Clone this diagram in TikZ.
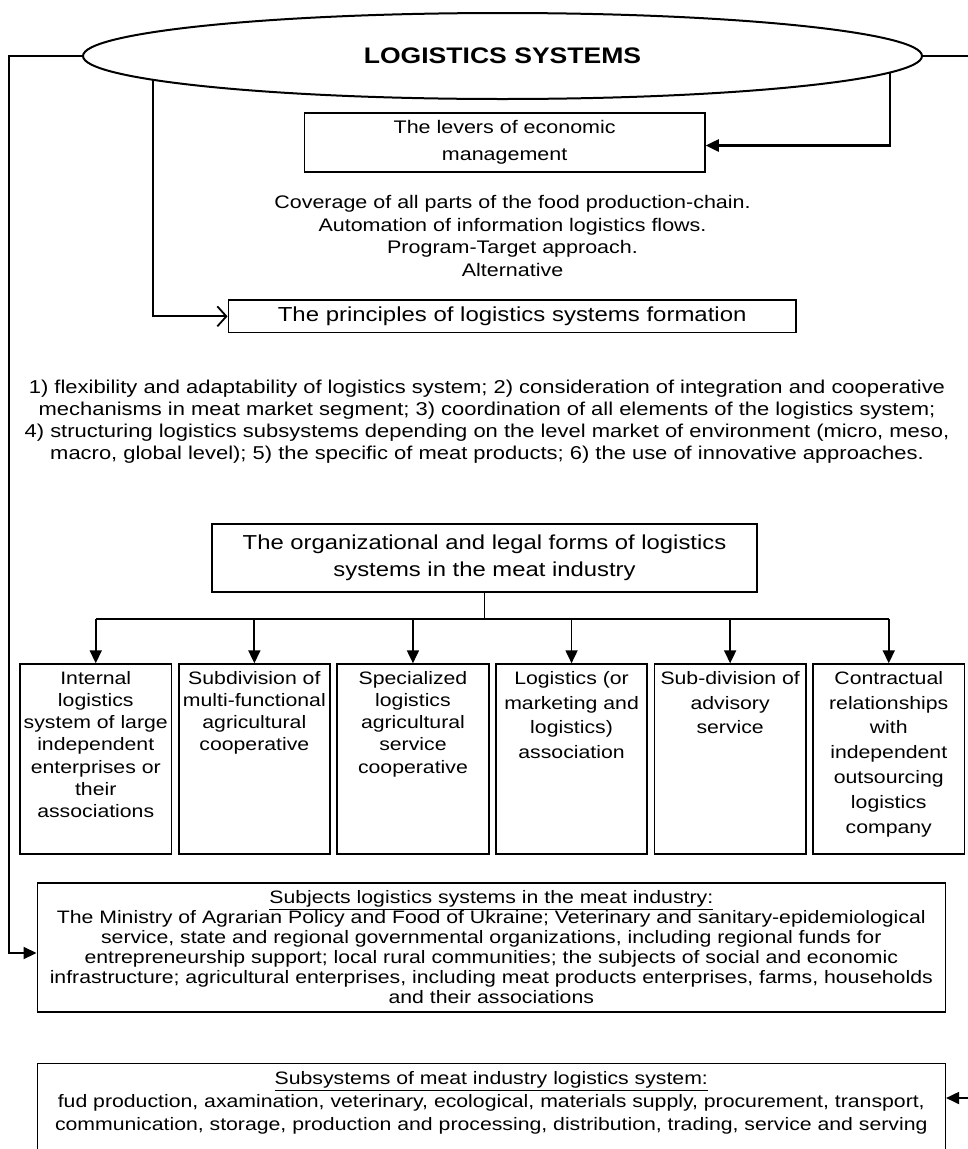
\documentclass[tikz,border=0pt]{standalone}
\usepackage{fontspec}
\setmainfont{Liberation Sans}[FakeStretch=1.18]
\usetikzlibrary{arrows.meta,shapes.geometric}
\pgfdeclarelayer{bg}
\pgfsetlayers{bg,main}
\newcommand{\myfs}[2]{\fontsize{#1pt}{#2pt}\selectfont}
\newcommand{\sixtext}[2]{\begin{minipage}[t][189.4pt][t]{151.5pt}\centering\myfs{18}{#1}\rule{0pt}{20pt}#2\end{minipage}}
\begin{document}
\begin{tikzpicture}[x=1pt,y=-1pt,
  box/.style={draw,line width=1.5pt,inner sep=0pt,align=center},
  sixbox/.style={draw,line width=1.8pt,inner sep=0pt,anchor=north},
  conn/.style={line width=1.8pt},
  tip/.style={-{Triangle[length=13pt,width=12pt]}},
  openTip/.style={-{Straight Barb[length=9pt,width=20pt]}}
]
\useasboundingbox (0,0) rectangle (967,1149);
\clip (0,0) rectangle (967,1149);

\node[ellipse, draw, line width=2pt, fill=white, minimum width=839pt, minimum height=86pt, inner sep=0pt,
      font=\myfs{22.5}{27}\bfseries] (ell) at (502.5,56) {LOGISTICS SYSTEMS};

\node[box, minimum width=400.7pt, minimum height=59pt, font=\myfs{18.2}{27}] (lev) at (504.65,142.5)
  {The levers of economic\\management};

\node[align=center, inner sep=0pt, font=\myfs{18.2}{22.5}] (cov) at (512.5,236)
  {Coverage of all parts of the food production-chain.\\Automation of information logistics flows.\\Program-Target approach.\\Alternative};

\node[box, minimum width=567.7pt, minimum height=32.7pt, font=\myfs{20.3}{24}] (prin) at (512.15,316.35)
  {The principles of logistics systems formation};

\node[align=center, inner sep=0pt, font=\myfs{18.6}{22}] (par) at (487,422)
  {1) flexibility and adaptability of logistics system; 2) consideration of integration and cooperative\\
   mechanisms in meat market segment; 3) coordination of all elements of the logistics system;\\
   4) structuring logistics subsystems depending on the level market of environment (micro, meso,\\
   macro, global level); 5) the specific of meat products; 6) the use of innovative approaches.};

\node[box, line width=1.8pt, minimum width=545pt, minimum height=68pt, font=\myfs{20.2}{27}] (org) at (484.5,558)
  {The organizational and legal forms of logistics\\systems in the meat industry};

\node[sixbox] (b1) at (95.75,663.3) {\sixtext{22.2}{Internal\\logistics\\system of large\\independent\\enterprises or\\their\\associations}};
\node[sixbox] (b2) at (254.35,663.3) {\sixtext{22.2}{Subdivision of\\multi-functional\\agricultural\\cooperative}};
\node[sixbox] (b3) at (412.95,663.3) {\sixtext{22.2}{Specialized\\logistics\\agricultural\\service\\cooperative}};
\node[sixbox] (b4) at (571.55,663.3) {\sixtext{24.8}{Logistics (or\\marketing and\\logistics)\\association}};
\node[sixbox] (b5) at (730.15,663.3) {\sixtext{24.8}{Sub-division of\\advisory\\service}};
\node[sixbox] (b6) at (888.75,663.3) {\sixtext{24.8}{Contractual\\relationships\\with\\independent\\outsourcing\\logistics\\company}};

\node[box, minimum width=908pt, minimum height=129pt, font=\myfs{18}{20}] (subj) at (491.3,947.5)
  {\underline{Subjects logistics systems in the meat industry:}\\
   The Ministry of Agrarian Policy and Food of Ukraine; Veterinary and sanitary-epidemiological\\
   service, state and regional governmental organizations, including regional funds for\\
   entrepreneurship support; local rural communities; the subjects of social and economic\\
   infrastructure; agricultural enterprises, including meat products enterprises, farms, households\\
   and their associations};

\node[draw, line width=1.5pt, inner sep=0pt, anchor=north] (sub2) at (491.3,1062.7)
  {\begin{minipage}[t][100pt][t]{908pt}\centering\myfs{18}{23}\rule{0pt}{21.5pt}\underline{Subsystems of meat industry logistics system:}\\
   fud production, axamination, veterinary, ecological, materials supply, procurement, transport,\\
   communication, storage, production and processing, distribution, trading, service and serving\end{minipage}};

\begin{pgfonlayer}{bg}
\coordinate (L1) at (9.3,56);
\draw[conn, tip] (ell.west) -- (L1) |- ([yshift=-5.5pt]subj.west);
\coordinate (R1) at (982,56);
\draw[conn, tip] (ell.east) -- (R1) |- ([yshift=-35.3pt]sub2.north east);
\coordinate (c1) at (152.7,60);
\draw[conn, openTip] (c1) |- (prin.west);
\coordinate (c2) at (890,60);
\draw[line width=2.5pt, tip] (c2) |- ([yshift=-3pt]lev.east);
\end{pgfonlayer}

\coordinate (bar) at ([yshift=-26.3pt]org.south);
\draw[conn] (org.south) -- (bar);
\draw[conn] (bar -| b1.north) -- (bar -| b6.north);
\foreach \i in {1,...,6} \draw[conn, tip] (bar -| b\i.north) -- (b\i.north);
\end{tikzpicture}
\end{document}
